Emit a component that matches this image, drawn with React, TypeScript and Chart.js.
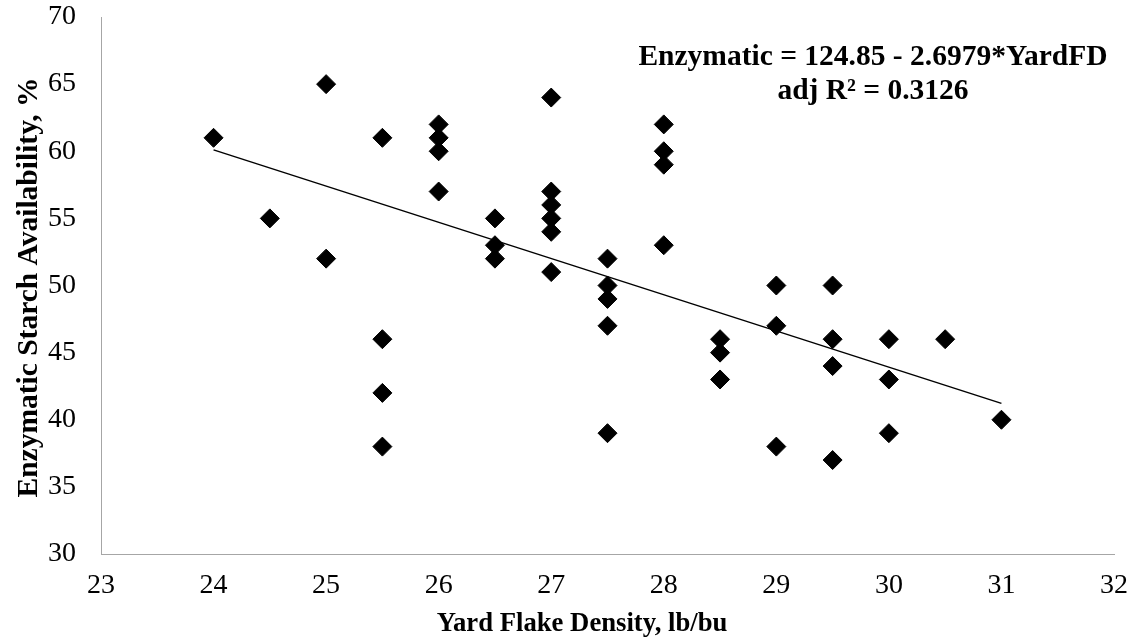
import React, { useEffect, useRef } from "react";
import { Chart, registerables } from "chart.js";

Chart.register(...registerables);

// Yard flake density (lb/bu) for each observation
const densityX: number[] = [
  24,
  24.5,
  25, 25,
  25.5, 25.5, 25.5, 25.5,
  26, 26, 26, 26,
  26.5, 26.5, 26.5,
  27, 27, 27, 27, 27, 27,
  27.5, 27.5, 27.5, 27.5, 27.5,
  28, 28, 28, 28,
  28.5, 28.5, 28.5,
  29, 29, 29,
  29.5, 29.5, 29.5, 29.5,
  30, 30, 30,
  30.5,
  31,
];

// Enzymatic starch availability (%) for each observation
const starchY: number[] = [
  61,
  55,
  65, 52,
  61, 46, 42, 38,
  62, 61, 60, 57,
  55, 53, 52,
  64, 57, 56, 55, 54, 51,
  52, 50, 49, 47, 39,
  62, 60, 59, 53,
  46, 45, 43,
  50, 47, 38,
  50, 46, 44, 37,
  46, 43, 39,
  46,
  40,
];

// Fitted trend line end points (from the reported equation)
const trendX: number[] = [24, 31];
const trendY: number[] = [60.1, 41.22];

const xTickValues: number[] = [23, 24, 25, 26, 27, 28, 29, 30, 31, 32];
const yTickValues: number[] = [30, 35, 40, 45, 50, 55, 60, 65, 70];

const equationLines: string[] = [
  "Enzymatic = 124.85 - 2.6979*YardFD",
  "adj R\u00B2 = 0.3126",
];
const xTitle = "Yard Flake Density, lb/bu";
const yTitle = "Enzymatic Starch Availability, %";

const FONT = '"Liberation Serif", "Times New Roman", serif';

const textPlugin = {
  id: "textPlugin",
  afterDraw(chart: any) {
    const { ctx } = chart;
    ctx.save();
    ctx.fillStyle = "#000";
    ctx.textAlign = "center";
    ctx.textBaseline = "alphabetic";
    ctx.font = `bold 29.5px ${FONT}`;
    ctx.fillText(equationLines[0], 873, 65);
    ctx.fillText(equationLines[1], 873, 99);
    ctx.font = `bold 26.7px ${FONT}`;
    ctx.fillText(xTitle, 582, 631);
    ctx.translate(36.5, 287.5);
    ctx.rotate(-Math.PI / 2);
    ctx.font = `bold 29.5px ${FONT}`;
    ctx.fillText(yTitle, 0, 0);
    ctx.restore();
  },
};

export default function App() {
  const canvasRef = useRef<HTMLCanvasElement | null>(null);

  useEffect(() => {
    const canvas = canvasRef.current;
    if (!canvas) return;
    const points = densityX.map((x, i) => ({ x, y: starchY[i] }));
    const trend = trendX.map((x, i) => ({ x, y: trendY[i] }));
    const chart = new Chart(canvas, {
      type: "scatter",
      data: {
        datasets: [
          {
            type: "line",
            data: trend,
            borderColor: "#000",
            borderWidth: 1.5,
            pointRadius: 0,
            showLine: true,
            fill: false,
          } as any,
          {
            data: points,
            pointStyle: "rectRot",
            pointRadius: 9.5,
            pointBackgroundColor: "#000",
            pointBorderColor: "#000",
            pointBorderWidth: 1,
            showLine: false,
          } as any,
        ],
      },
      options: {
        responsive: false,
        animation: false,
        devicePixelRatio: 1,
        layout: { padding: { top: 17, right: 28, left: 0, bottom: 0 } },
        plugins: {
          legend: { display: false },
          tooltip: { enabled: false },
        },
        scales: {
          x: {
            type: "linear",
            min: 23,
            max: 32,
            afterBuildTicks: (scale: any) => {
              scale.ticks = xTickValues.map((v) => ({ value: v }));
            },
            afterFit: (scale: any) => {
              scale.height = 86;
            },
            ticks: {
              color: "#000",
              font: { family: FONT, size: 28 },
              padding: 15,
              maxRotation: 0,
            },
            grid: { drawOnChartArea: false, drawTicks: false },
            border: { display: true, color: "#a6a6a6", width: 1 },
          },
          y: {
            type: "linear",
            min: 30,
            max: 70,
            afterBuildTicks: (scale: any) => {
              scale.ticks = yTickValues.map((v) => ({ value: v }));
            },
            afterFit: (scale: any) => {
              scale.width = 101;
              scale.paddingTop = 0;
              scale.paddingBottom = 0;
            },
            ticks: {
              color: "#000",
              font: { family: FONT, size: 28 },
              padding: 25,
            },
            grid: { drawOnChartArea: false, drawTicks: false },
            border: { display: true, color: "#a6a6a6", width: 1 },
          },
        },
      },
      plugins: [textPlugin],
    });
    return () => chart.destroy();
  }, []);

  return (
    <div style={{ position: "absolute", left: 0, top: 0, width: 1143, height: 640, background: "#fff" }}>
      <canvas ref={canvasRef} width={1143} height={640} />
    </div>
  );
}
